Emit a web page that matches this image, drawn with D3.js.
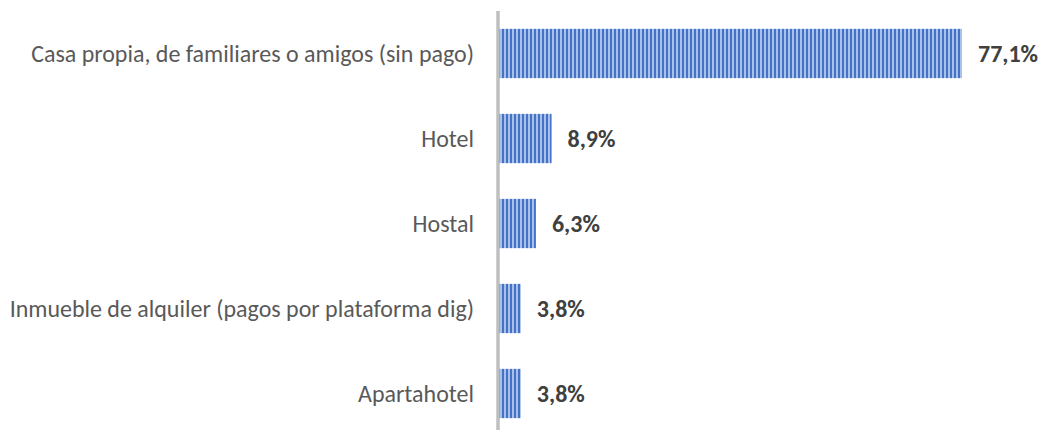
<!doctype html>
<html>
<head>
<meta charset="utf-8">
<script src="https://d3js.org/d3.v7.min.js"></script>
<style>
  body { margin: 0; background: #fff; }
  text { font-family: Calibri, Carlito, Lato, "Open Sans", "Liberation Sans", sans-serif; }
</style>
</head>
<body>
<div id="chart"></div>
<script>
const categories = [
  "Casa propia, de familiares o amigos (sin pago)",
  "Hotel",
  "Hostal",
  "Inmueble de alquiler (pagos por plataforma dig)",
  "Apartahotel"
];
const values = [77.1, 8.9, 6.3, 3.8, 3.8];
const valueLabels = ["77,1%", "8,9%", "6,3%", "3,8%", "3,8%"];

const width = 1041, height = 430;
const x0 = 498, xEnd = 962;

const svg = d3.select("#chart").append("svg")
  .attr("width", width).attr("height", height);

const defs = svg.append("defs");
const pat = defs.append("pattern")
  .attr("id", "stripes")
  .attr("patternUnits", "userSpaceOnUse")
  .attr("x", x0)
  .attr("width", 4).attr("height", 4);
pat.append("rect").attr("width", 4).attr("height", 4).attr("fill", "#a9c0ea");
pat.append("rect").attr("x", 0).attr("width", 2).attr("height", 4).attr("fill", "#4472c4");

const x = d3.scaleLinear().domain([0, 77.1]).range([x0, xEnd]);
const y = d3.scaleBand().domain(categories).range([11, 436]).paddingInner(0.42).paddingOuter(0.21);

svg.selectAll("rect.bar")
  .data(values)
  .enter().append("rect")
  .attr("class", "bar")
  .attr("x", x(0))
  .attr("y", (d, i) => y(categories[i]))
  .attr("width", d => x(d) - x(0))
  .attr("height", y.bandwidth())
  .attr("fill", "url(#stripes)");

// axis line
svg.append("line")
  .attr("x1", x0).attr("x2", x0)
  .attr("y1", 11).attr("y2", 430)
  .attr("stroke", "#bfbfbf").attr("stroke-width", 3.5);

const labels = svg.selectAll("text.cat")
  .data(categories)
  .enter().append("text")
  .attr("class", "cat")
  .attr("x", 474)
  .attr("y", d => y(d) + y.bandwidth() / 2)
  .attr("dy", "0.35em")
  .attr("text-anchor", "end")
  .attr("fill", "#595959")
  .style("font-size", "19px")
  .text(d => d);

// fit longest label to the reference width
const w0 = labels.nodes()[0].getComputedTextLength();
const fs = 19 * 443 / w0;
labels.style("font-size", fs + "px");

svg.selectAll("text.val")
  .data(values)
  .enter().append("text")
  .attr("class", "val")
  .attr("x", d => x(d) + 16)
  .attr("y", (d, i) => y(categories[i]) + y.bandwidth() / 2)
  .attr("dy", "0.35em")
  .attr("fill", "#404040")
  .style("font-size", fs + "px")
  .style("font-weight", "bold")
  .text((d, i) => valueLabels[i]);
</script>
</body>
</html>
